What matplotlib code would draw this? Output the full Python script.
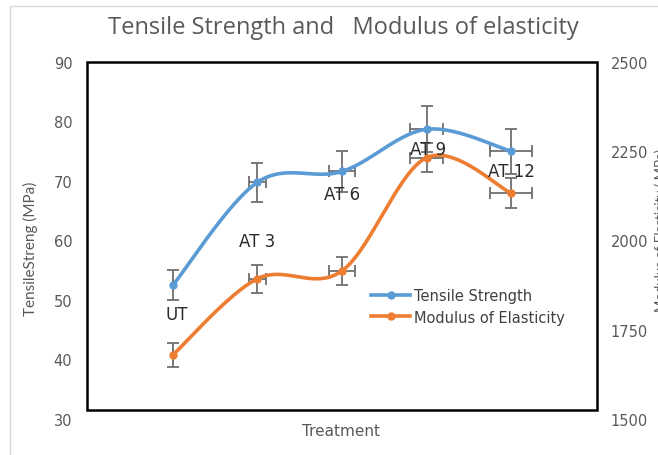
import numpy as np
import matplotlib
matplotlib.use("Agg")
import matplotlib.pyplot as plt
from matplotlib.lines import Line2D
from matplotlib.patches import Rectangle

# Treatment groups (hours of treatment) and measured properties
treatments = ["UT", "AT 3", "AT 6", "AT 9", "AT 12"]
treat_x = [0, 3, 6, 9, 12]
treat_xerr = [0.0, 0.3, 0.45, 0.6, 0.75]

tensile = [52.5, 69.8, 71.6, 78.7, 75.0]          # MPa
tensile_err = [2.5, 3.3, 3.4, 3.9, 3.8]

modulus = [1680, 1893, 1915, 2232, 2133]           # MPa
modulus_err = [33, 39, 39, 40, 42]

left_ticks = [30, 40, 50, 60, 70, 80, 90]
right_ticks = [1500, 1750, 2000, 2250, 2500]

BLUE = "#5B9BD5"
ORANGE = "#ED7D31"
GREY_TEXT = "#595959"
ERR = "#6f6f6f"

W, H = 658, 456
fig = plt.figure(figsize=(W / 100, H / 100), dpi=100)


def px_box(x0, y0, x1, y1):
    """Figure-fraction box from pixel coordinates measured from top-left."""
    return [x0 / W, 1 - y1 / H, (x1 - x0) / W, (y1 - y0) / H]


def smooth(x, y, n=40):
    """Smoothed line through the points (cubic Bezier, Catmull-Rom tangents)."""
    p = np.column_stack([x, y]).astype(float)
    out = []
    for i in range(len(p) - 1):
        p0 = p[i - 1] if i > 0 else p[i]
        p1, p2 = p[i], p[i + 1]
        p3 = p[i + 2] if i + 2 < len(p) else p[i + 1]
        c1 = p1 + (p2 - p0) / 6
        c2 = p2 - (p3 - p1) / 6
        t = np.linspace(0, 1, n)[:, None]
        seg = ((1 - t) ** 3) * p1 + 3 * ((1 - t) ** 2) * t * c1 + 3 * (1 - t) * t ** 2 * c2 + t ** 3 * p2
        out.append(seg if i == 0 else seg[1:])
    s = np.vstack(out)
    return s[:, 0], s[:, 1]


ax = fig.add_axes(px_box(87, 63, 597, 420))
ax2 = ax.twinx()
for a in (ax, ax2):
    for s in a.spines.values():
        s.set_visible(False)
    a.set_xlim(-3.05, 15.05)
    a.set_xticks([])

ax.set_ylim(30, 90)
ax.set_yticks(left_ticks)
ax2.set_ylim(1500, 2500)
ax2.set_yticks(right_ticks)
ax.tick_params(axis="y", length=0, pad=10.5, labelsize=10.5, labelcolor=GREY_TEXT)
ax2.tick_params(axis="y", length=0, pad=10, labelsize=10.5, labelcolor=GREY_TEXT)

# Tensile strength
ax.errorbar(treat_x, tensile, yerr=tensile_err, xerr=treat_xerr, fmt="none",
            ecolor=ERR, elinewidth=1.3, capsize=4, capthick=1.3, zorder=2)
sx, sy = smooth(treat_x, tensile)
ax.plot(sx, sy, color=BLUE, lw=2.6, zorder=3, solid_capstyle="round")
ax.plot(treat_x, tensile, "o", color=BLUE, ms=5, zorder=4)

# Modulus of elasticity
ax2.errorbar(treat_x, modulus, yerr=modulus_err, xerr=treat_xerr, fmt="none",
             ecolor=ERR, elinewidth=1.3, capsize=4, capthick=1.3, zorder=2)
mx, my = smooth(treat_x, modulus)
ax2.plot(mx, my, color=ORANGE, lw=2.6, zorder=3, solid_capstyle="round")
ax2.plot(treat_x, modulus, "o", color=ORANGE, ms=5, zorder=4)

# Treatment labels next to the tensile strength points
label_offsets = [(4, -29), (0, -59), (0, -23), (2, -20), (0, -20)]
for name, xv, yv, off in zip(treatments, treat_x, tensile, label_offsets):
    ax2.annotate(name, xy=(xv, yv), xycoords=ax.transData, xytext=off,
                 textcoords="offset pixels", ha="center", va="center",
                 fontsize=12, color="#2b2b2b", zorder=6)

fig.text(30 / W, 1 - 249 / H, "TensileStreng (MPa)", family="Lato",
         fontsize=11, color=GREY_TEXT, rotation=90, ha="center", va="center")

fig.text(661 / W, 1 - 230 / H, "Modulus of Elasticity ( MPa)", family="Lato",
         fontsize=9.5, color=GREY_TEXT, rotation=90, ha="center", va="center")

fig.text(341 / W, 1 - 432 / H, "Treatment", fontsize=11, color=GREY_TEXT,
         ha="center", va="center")

fig.text(343 / W, 1 - 28 / H, "Tensile Strength and   Modulus of elasticity",
         family="Open Sans", fontsize=17, color=GREY_TEXT, ha="center",
         va="center")

# Frame around the plotting region and the outer chart border
fig.patches.append(Rectangle((87 / W, 1 - 411 / H), 510 / W, 348 / H,
                             transform=fig.transFigure, fill=False,
                             edgecolor="black", lw=1.8, zorder=5))
fig.patches.append(Rectangle((10 / W, -0.05), 1.1, 1 - 7 / H + 0.05,
                             transform=fig.transFigure, fill=False,
                             edgecolor="#d9d9d9", lw=1.0, zorder=0))

handles = [
    Line2D([], [], color=BLUE, lw=2.6, marker="o", ms=5),
    Line2D([], [], color=ORANGE, lw=2.6, marker="o", ms=5),
]
fig.legend(handles, ["Tensile Strength", "Modulus of Elasticity"],
           loc="upper left", bbox_to_anchor=(371 / W, 1 - 289 / H),
           frameon=False, fontsize=10.5, handlelength=2.7, handletextpad=0.25,
           labelspacing=0.45, borderpad=0, borderaxespad=0,
           labelcolor="#404040")

fig.savefig("out.png", dpi=100)
